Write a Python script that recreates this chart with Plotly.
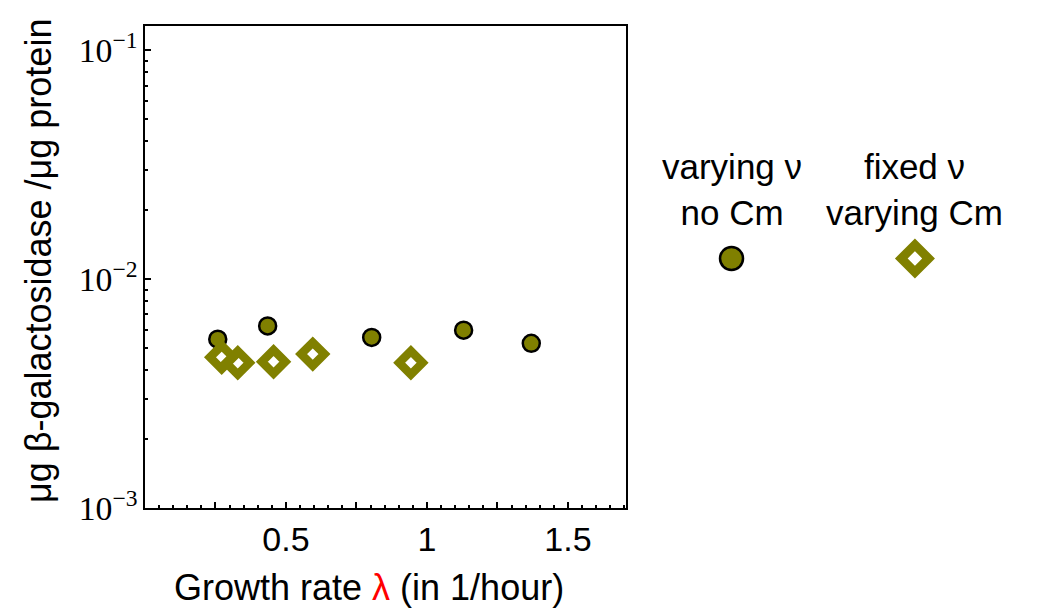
import plotly.graph_objects as go

# varying nu, no Cm
rate_nocm = [0.258, 0.435, 0.804, 1.130, 1.370]
lacz_nocm = [0.00546, 0.00624, 0.00556, 0.00598, 0.00524]

# fixed nu, varying Cm
rate_cm = [0.272, 0.329, 0.456, 0.595, 0.943]
lacz_cm = [0.00455, 0.00431, 0.00435, 0.00470, 0.00431]

x_ticks = [0.25, 0.5, 0.75, 1.0, 1.25, 1.5]
x_ticktext = ["", "0.5", "", "1", "", "1.5"]

legend_labels = ["varying ν<br>no Cm", "fixed ν<br>varying Cm"]
legend_pos = [0.233, 0.757]

OLIVE = "#808000"
SANS = "Liberation Sans, Arial, sans-serif"
SERIF = "Liberation Serif, Times New Roman, serif"

fig = go.Figure()

fig.add_trace(go.Scatter(
    x=rate_nocm, y=lacz_nocm, mode="markers",
    marker=dict(symbol="circle", size=17, color=OLIVE,
                line=dict(color="black", width=2.5)),
    showlegend=False,
))
fig.add_trace(go.Scatter(
    x=rate_cm, y=lacz_cm, mode="markers",
    marker=dict(symbol="diamond-open", size=18, color=OLIVE,
                line=dict(color=OLIVE, width=8.5)),
    showlegend=False,
))

# legend keys drawn on a hidden axis to the right
fig.add_trace(go.Scatter(
    x=[legend_pos[0]], y=[0.154], mode="markers", xaxis="x2", yaxis="y2",
    marker=dict(symbol="circle", size=23, color=OLIVE,
                line=dict(color="black", width=2.5)),
    showlegend=False, hoverinfo="skip",
))
fig.add_trace(go.Scatter(
    x=[legend_pos[1]], y=[0.154], mode="markers", xaxis="x2", yaxis="y2",
    marker=dict(symbol="diamond-open", size=21, color=OLIVE,
                line=dict(color=OLIVE, width=9)),
    showlegend=False, hoverinfo="skip",
))

for pos, label in zip(legend_pos, legend_labels):
    fig.add_annotation(
        x=pos, y=0.965, xref="x2", yref="y2", text=label, showarrow=False,
        xanchor="center", yanchor="top", align="center",
        font=dict(family=SANS, size=35, color="black"),
    )

# axis titles as annotations so they sit exactly where the reference has them
fig.add_annotation(
    x=0.252, y=-0.165, xref="paper", yref="paper", showarrow=False,
    xanchor="center", yanchor="middle",
    text="Growth rate <span style='color:red'>λ</span> (in 1/hour)",
    font=dict(family=SANS, size=36, color="black"),
)
fig.add_annotation(
    x=-0.1206, y=0.5124, xref="paper", yref="paper", showarrow=False,
    xanchor="center", yanchor="middle",
    text="μg β-galactosidase /μg protein", textangle=-90,
    font=dict(family=SANS, size=36, color="black"),
)

fig.update_layout(
    width=1042, height=608,
    margin=dict(l=145, r=10, t=26, b=100),
    paper_bgcolor="white", plot_bgcolor="white",
    xaxis=dict(
        domain=[0, 0.5423], automargin=False,
        range=[0, 1.706], tickvals=x_ticks, ticktext=x_ticktext,
        ticks="inside", ticklen=6, tickwidth=1.5, tickcolor="black",
        minor=dict(dtick=0.05, ticks="inside", ticklen=3, tickcolor="black", showgrid=False),
        showline=True, linecolor="black", linewidth=2, mirror=True,
        showgrid=False, zeroline=False,
        tickfont=dict(family=SANS, size=34, color="black"),
    ),
    yaxis=dict(
        type="log", range=[-3, -0.895], dtick=1, exponentformat="power",
        automargin=False,
        ticks="inside", ticklen=6, tickwidth=1.5, tickcolor="black",
        minor=dict(ticks="inside", ticklen=3, tickcolor="black", showgrid=False),
        showline=True, linecolor="black", linewidth=2, mirror=True,
        showgrid=False, zeroline=False,
        tickfont=dict(family=SERIF, size=27, color="black"),
    ),
    xaxis2=dict(domain=[0.5693, 0.9639], range=[0, 1], visible=False, anchor="y2"),
    yaxis2=dict(domain=[0.473, 0.763], range=[0, 1], visible=False, anchor="x2"),
)

# drop the default 8 px body margin so the figure fills the window exactly
fig.write_html(
    "out.html",
    config={"displayModeBar": False},
    post_script="document.body.style.margin = '0px';",
)
